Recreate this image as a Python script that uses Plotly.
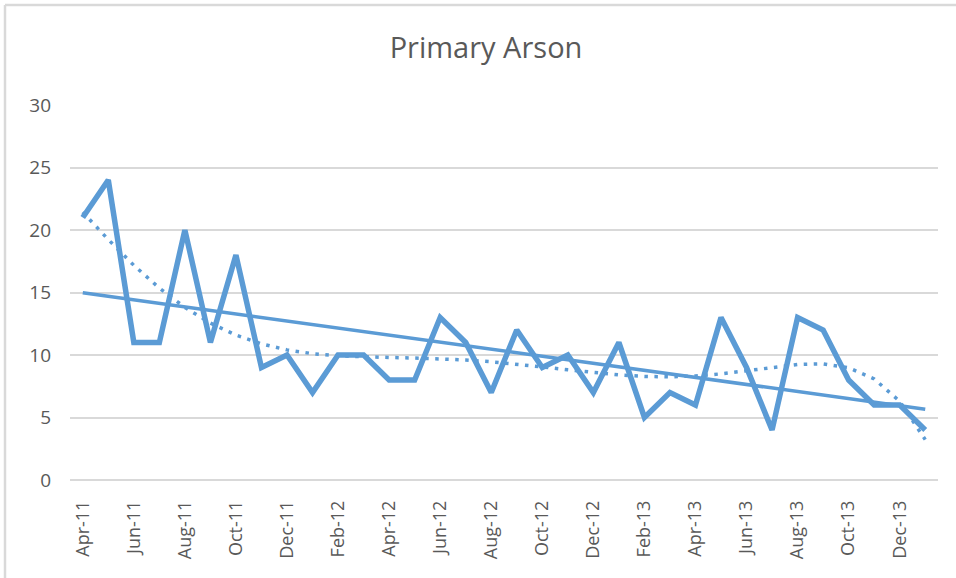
import numpy as np
import plotly.graph_objects as go

months = ["Apr-11", "May-11", "Jun-11", "Jul-11", "Aug-11", "Sep-11", "Oct-11", "Nov-11",
          "Dec-11", "Jan-12", "Feb-12", "Mar-12", "Apr-12", "May-12", "Jun-12", "Jul-12",
          "Aug-12", "Sep-12", "Oct-12", "Nov-12", "Dec-12", "Jan-13", "Feb-13", "Mar-13",
          "Apr-13", "May-13", "Jun-13", "Jul-13", "Aug-13", "Sep-13", "Oct-13", "Nov-13",
          "Dec-13", "Jan-14"]
arson = [21, 24, 11, 11, 20, 11, 18, 9, 10, 7, 10, 10, 8, 8, 13, 11, 7, 12, 9, 10,
         7, 11, 5, 7, 6, 13, 9, 4, 13, 12, 8, 6, 6, 4]
tick_labels = months[::2]

# Excel-style trendlines derived from the series
xi = np.arange(1, len(arson) + 1)
lin = np.polyval(np.polyfit(xi, arson, 1), xi)
poly = np.polyval(np.polyfit(xi, arson, 6), xi)

BLUE = "#5B9BD5"
GREY_TXT = "#595959"
GRID = "#D9D9D9"

fig = go.Figure()
fig.add_trace(go.Scatter(x=months, y=arson, mode="lines",
                         line=dict(color=BLUE, width=5.5), hoverinfo="x+y"))
fig.add_trace(go.Scatter(x=months, y=poly, mode="lines",
                         line=dict(color=BLUE, width=3.5, dash="3.5px,6.5px")))
fig.add_trace(go.Scatter(x=months, y=lin, mode="lines",
                         line=dict(color=BLUE, width=3.5)))

W, H = 956, 578
L, R, T, B = 70, 18, 105, 98
pw, ph = W - L - R, H - T - B

def px2paper_x(px):
    return (px - L) / pw

def py2paper_y(py):
    return (H - B - py) / ph

fig.update_layout(
    width=W, height=H,
    margin=dict(l=L, r=R, t=T, b=B),
    paper_bgcolor="white", plot_bgcolor="white",
    showlegend=False,
    title=dict(text="Primary Arson", x=486 / W, xanchor="center",
               y=1 - 48 / H, yanchor="middle", yref="container",
               font=dict(family="Open Sans", size=29, color=GREY_TXT)),
    xaxis=dict(type="category", categoryorder="array", categoryarray=months,
               range=[-0.5, len(months) - 0.5],
               tickmode="array", tickvals=tick_labels, ticktext=tick_labels,
               tickangle=-90, showgrid=False, zeroline=False,
               showline=False, ticks="", ticklabelstandoff=16,
               tickfont=dict(family="Open Sans", size=18, color=GREY_TXT)),
    yaxis=dict(range=[0, 30], tickmode="array", tickvals=[0, 5, 10, 15, 20, 25, 30],
               showgrid=True, gridcolor=GRID, gridwidth=2,
               zeroline=True, zerolinecolor=GRID, zerolinewidth=2,
               showline=False, ticks="", ticklabelstandoff=18,
               tickfont=dict(family="Open Sans", size=19, color=GREY_TXT)),
    shapes=[
        dict(type="line", xref="paper", yref="paper",
             x0=px2paper_x(5), x1=px2paper_x(W), y0=py2paper_y(5), y1=py2paper_y(5),
             line=dict(color=GRID, width=2.5)),
        dict(type="line", xref="paper", yref="paper",
             x0=px2paper_x(5), x1=px2paper_x(5), y0=py2paper_y(5), y1=py2paper_y(H),
             line=dict(color=GRID, width=2.5)),
    ],
)

fig.write_html("out.html", config={"displayModeBar": False},
               post_script="document.body.style.margin='0';document.body.style.overflow='hidden';")
